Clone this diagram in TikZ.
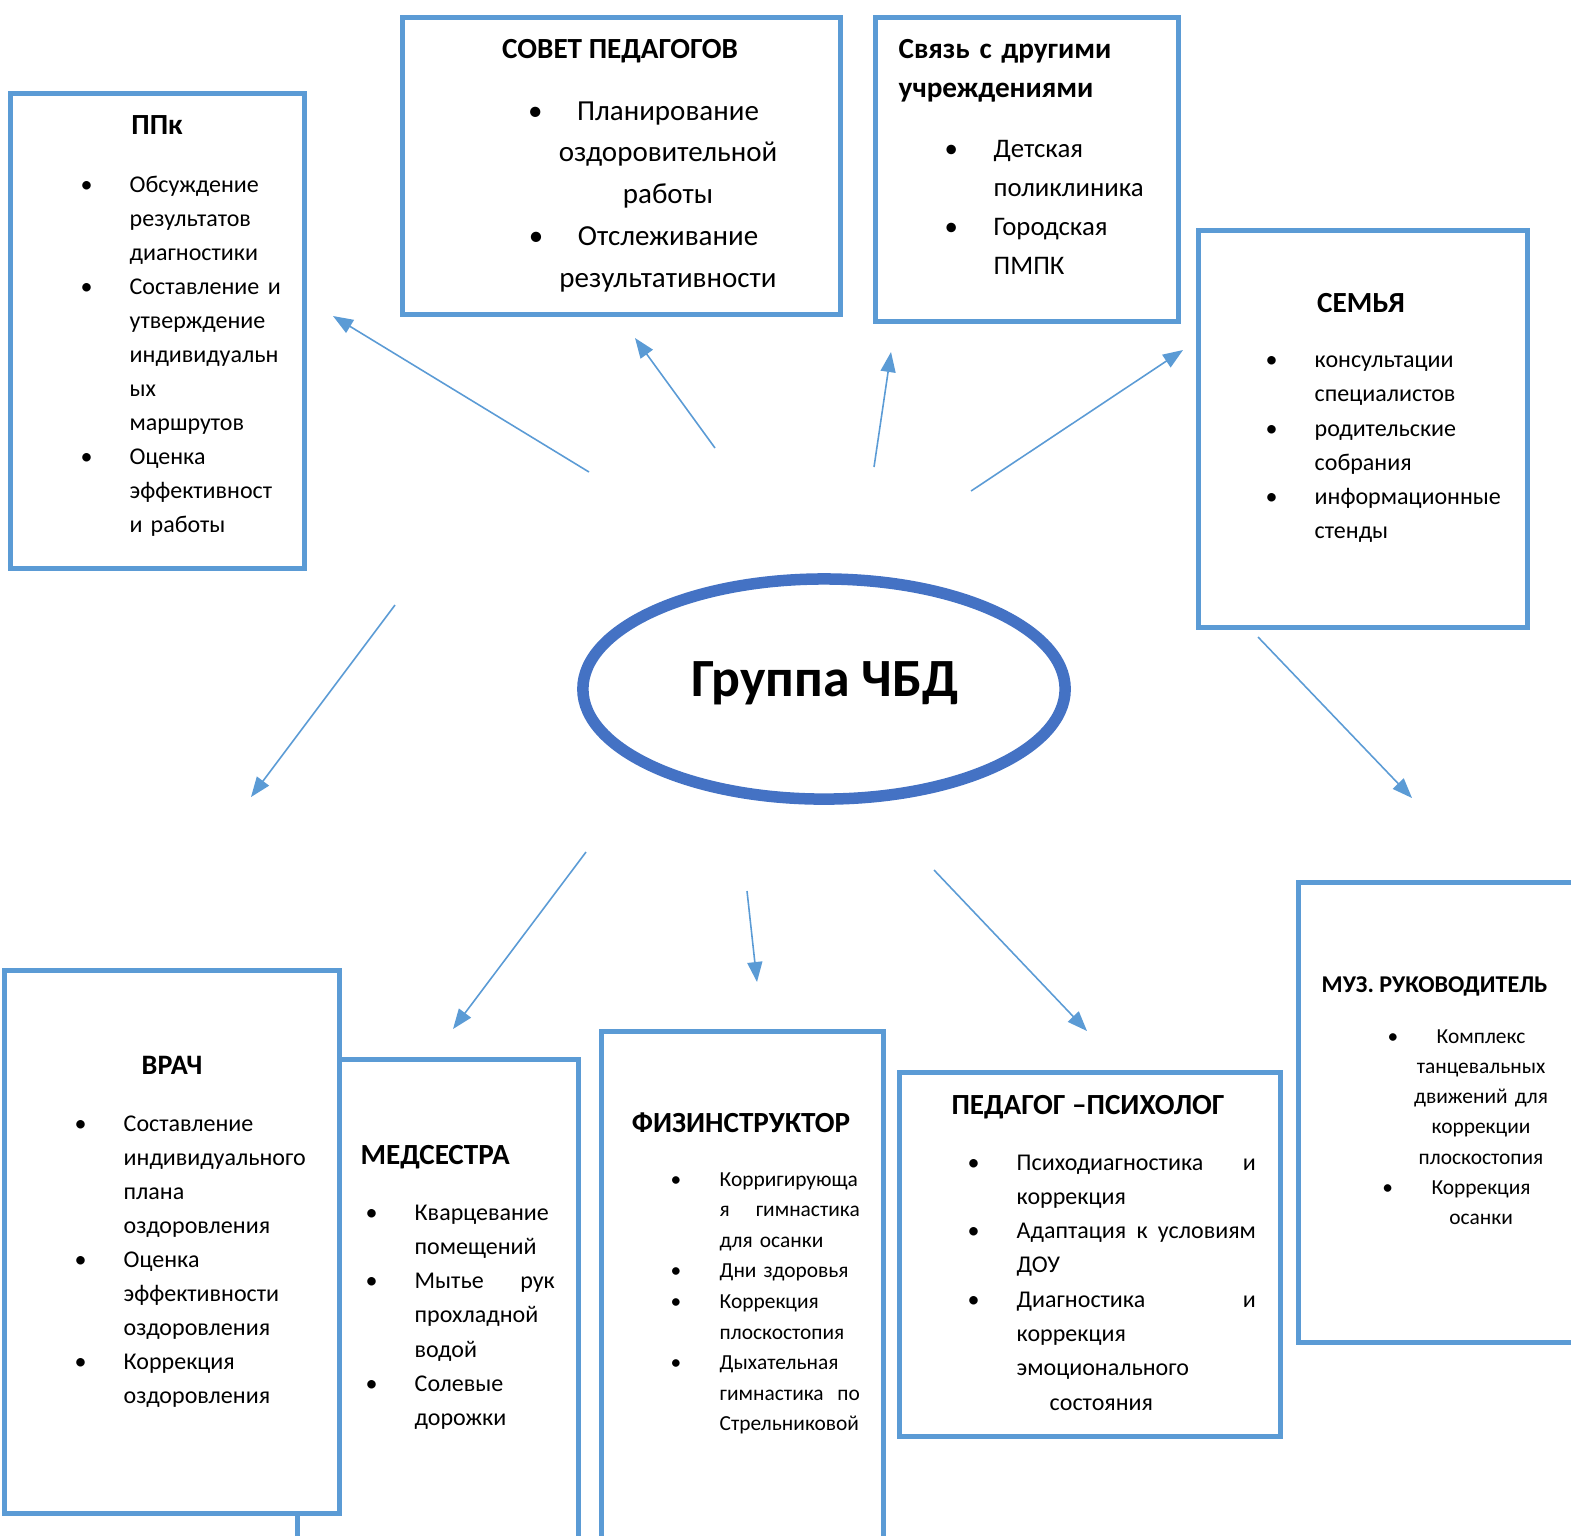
\documentclass[tikz,border=0pt]{standalone}
\usepackage{fontspec}
\setmainfont{Carlito}
\usetikzlibrary{arrows.meta,shapes.geometric}
\definecolor{boxblue}{RGB}{91,155,213}
\definecolor{hubblue}{RGB}{68,114,196}
% bullet hanging left of the text column
\newcommand{\bul}{\leavevmode\llap{\makebox[0.49cm][l]{\textbullet}}}
% justified line
\newcommand{\jst}[1]{\leavevmode\hbox to \linewidth{#1}}
\tikzset{
  box/.style={draw=boxblue, line width=0.05cm, fill=white, inner sep=0pt},
  hub/.style={ellipse, draw=hubblue, line width=0.115cm, fill=white, minimum width=4.82cm, minimum height=2.2cm},
  link/.style={draw=boxblue, line width=0.45pt, -{Triangle[length=0.2cm,width=0.15cm]}},
  ttl/.style={inner sep=0pt, font=\bfseries\fontsize{8.3}{10}\selectfont},
  lst/.style={inner sep=0pt, align=left, font=\fontsize{6.83}{9.67}\selectfont},
}
\begin{document}
\frenchspacing
\begin{tikzpicture}[x=0.01cm,y=-0.01cm]
    \useasboundingbox (0,0) rectangle (1571,1535);
    \clip (0,0) rectangle (1571,1535);

    % boxes
    \node[box, minimum width=2.93cm, minimum height=4.74cm] (ppk) at (157.5,331) {};
    \node[box, minimum width=4.37cm, minimum height=2.96cm] (sovet) at (621.5,166) {};
    \node[box, minimum width=3.02cm, minimum height=3.03cm] (svyaz) at (1027,169.5) {};
    \node[box, minimum width=3.28cm, minimum height=3.96cm] (semya) at (1363,429) {};
    \node[box, minimum width=2.86cm, minimum height=4.59cm] (muz) at (1442,1112.5) {};
    \node[box, minimum width=2.80cm, minimum height=5.00cm] (med) at (438,1310) {};
    \node[box, minimum width=3.34cm, minimum height=5.42cm] (vrach) at (172,1242) {};
    \node[box, minimum width=2.81cm, minimum height=5.28cm] (fiz) at (742.5,1296) {};
    \node[box, minimum width=3.80cm, minimum height=3.63cm] (psih) at (1090,1254.5) {};

    % centre
    \node[hub] (grp) at (824,689) {};
    \node[inner sep=0pt, anchor=base, font=\bfseries\fontsize{15.3}{18}\selectfont] (grptxt) at (825,696) {Группа ЧБД};

    % ППк
    \node[ttl, anchor=base] (ppkttl) at (157,134.5) {ППк};
    \node[lst, text width=1.51cm, anchor=base west] (ppklst) at (129,192)
        {\bul Обсуждение\\результатов\\диагностики\\\bul\jst{Составление\hfill и}\\утверждение\\индивидуальн\\ых\\маршрутов\\\bul Оценка\\эффективност\\и работы};

    % совет педагогов
    \node[ttl, anchor=base] (sovetttl) at (620,58.5) {СОВЕТ ПЕДАГОГОВ};
    \node[lst, align=center, text width=2.4cm, anchor=base, font=\fontsize{8.25}{11.88}\selectfont] (sovetlst) at (668,120)
        {\bul Планирование\\оздоровительной\\работы\\\bul Отслеживание\\результативности};

    % связь
    \node[ttl, text width=2.8cm, align=left, anchor=base west, font=\bfseries\fontsize{8.3}{11.1}\selectfont] (svyazttl) at (898,58.5)
        {Связь с другими\\учреждениями};
    \node[lst, text width=1.6cm, anchor=base west, font=\fontsize{7.62}{11.05}\selectfont] (svyazlst) at (993,157.5)
        {\bul Детская\\поликлиника\\\bul Городская\\ПМПК};

    % семья
    \node[ttl, anchor=base] (semyattl) at (1361,312) {СЕМЬЯ};
    \node[lst, text width=1.9cm, anchor=base west, font=\fontsize{6.83}{9.75}\selectfont] (semyalst) at (1314,367.5)
        {\bul консультации\\специалистов\\\bul родительские\\собрания\\\bul информационные\\стенды};

    % муз. руководитель
    \node[ttl, anchor=base west, font=\bfseries\fontsize{6.85}{9}\selectfont] (muzttl) at (1321,992) {МУЗ. РУКОВОДИТЕЛЬ};
    \node[lst, align=center, text width=1.4cm, anchor=base, font=\fontsize{6.09}{8.62}\selectfont] (muzlst) at (1481,1043)
        {\bul Комплекс\\танцевальных\\движений для\\коррекции\\плоскостопия\\\bul Коррекция\\осанки};

    % врач
    \node[ttl, anchor=base, font=\bfseries\fontsize{8}{10}\selectfont] (vrachttl) at (172,1074) {ВРАЧ};
    \node[lst, text width=1.9cm, anchor=base west] (vrachlst) at (123,1131)
        {\bul Составление\\индивидуального\\плана\\оздоровления\\\bul Оценка\\эффективности\\оздоровления\\\bul Коррекция\\оздоровления};

    % медсестра
    \node[ttl, anchor=base west] (medttl) at (360,1164) {МЕДСЕСТРА};
    \node[lst, text width=1.4cm, anchor=base west, font=\fontsize{6.83}{9.75}\selectfont] (medlst) at (414,1220)
        {\bul Кварцевание\\помещений\\\bul\jst{Мытье\hfill рук}\\прохладной\\водой\\\bul Солевые\\дорожки};

    % физинструктор
    \node[ttl, anchor=base] (fizttl) at (741,1132) {ФИЗИНСТРУКТОР};
    \node[lst, text width=1.4cm, anchor=base west, font=\fontsize{6.09}{8.7}\selectfont] (fizlst) at (719,1186)
        {\bul Корригирующа\\\jst{я\hfill гимнастика}\\для осанки\\\bul Дни здоровья\\\bul Коррекция\\плоскостопия\\\bul Дыхательная\\\jst{гимнастика\hfill по}\\Стрельниковой};

    % педагог-психолог
    \node[ttl, anchor=base] (psihttl) at (1088,1114) {ПЕДАГОГ –ПСИХОЛОГ};
    \node[lst, text width=2.39cm, anchor=base west, font=\fontsize{6.83}{9.75}\selectfont] (psihlst) at (1016,1170)
        {\bul\jst{Психодиагностика\hfill и}\\коррекция\\\bul\jst{Адаптация\hfill к\hfill условиям}\\ДОУ\\\bul\jst{Диагностика\hfill и}\\коррекция\\эмоционального\\\hspace*{0.33cm}состояния};

    % arrows
    \coordinate (ppk-s) at (589,472);   \coordinate (ppk-e) at (333,316);
    \coordinate (sovet-s) at (715,448); \coordinate (sovet-e) at (635,338);
    \coordinate (svyaz-s) at (874,467); \coordinate (svyaz-e) at (891,352);
    \coordinate (semya-s) at (971,491); \coordinate (semya-e) at (1183,350);
    \coordinate (muz-s) at (1258,637);  \coordinate (muz-e) at (1412,798);
    \coordinate (vrach-s) at (395,605); \coordinate (vrach-e) at (251,797);
    \coordinate (med-s) at (586,852);   \coordinate (med-e) at (453,1029);
    \coordinate (fiz-s) at (747,891);   \coordinate (fiz-e) at (757,982);
    \coordinate (psih-s) at (934,870);  \coordinate (psih-e) at (1087,1031);
    \draw[link] (ppk-s) -- (ppk-e);
    \draw[link] (sovet-s) -- (sovet-e);
    \draw[link] (svyaz-s) -- (svyaz-e);
    \draw[link] (semya-s) -- (semya-e);
    \draw[link] (muz-s) -- (muz-e);
    \draw[link] (vrach-s) -- (vrach-e);
    \draw[link] (med-s) -- (med-e);
    \draw[link] (fiz-s) -- (fiz-e);
    \draw[link] (psih-s) -- (psih-e);
\end{tikzpicture}
\end{document}
